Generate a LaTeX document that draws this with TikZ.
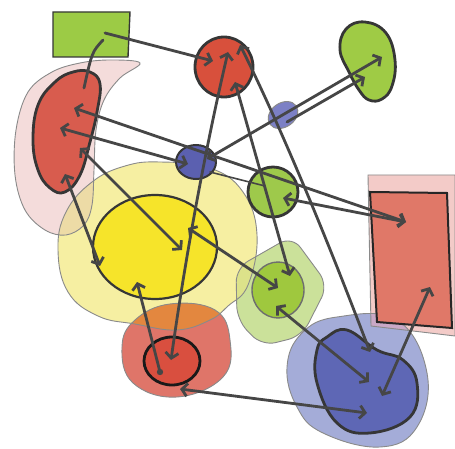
\documentclass[tikz,border=0pt]{standalone}
\usetikzlibrary{arrows.meta}
\definecolor{arrowc}{HTML}{464646}
\definecolor{inkc}{HTML}{363636}
\definecolor{softline}{HTML}{8A8A8A}
\definecolor{cGreenRect}{HTML}{9CCB45}
\definecolor{cPinkCres}{HTML}{F4DCDB}
\definecolor{cRedBean}{HTML}{D85C4E}
\definecolor{cRedCirc}{HTML}{D8503C}
\definecolor{cGreenBlob}{HTML}{9FCB45}
\definecolor{cSmallBlue}{HTML}{7C80C5}
\definecolor{cBlueEll}{HTML}{5B60B0}
\definecolor{cGreenCirc}{HTML}{9EC94B}
\definecolor{cPinkRect}{HTML}{F3CBC8}
\definecolor{cRedRect}{HTML}{E07868}
\definecolor{cYellowOut}{HTML}{F6EFA2}
\definecolor{cYellowIn}{HTML}{F6E42A}
\definecolor{cGreenPent}{HTML}{CBE19A}
\definecolor{cGreenIn}{HTML}{9FC83E}
\definecolor{cRedOut}{HTML}{DF7569}
\definecolor{cRedIn}{HTML}{D94F3F}
\definecolor{cBlueBig}{HTML}{A4ACD8}
\definecolor{cBlueIn}{HTML}{5E67B5}
\definecolor{oPinkYel}{HTML}{EDDBA6}
\definecolor{oRedYel}{HTML}{E3873F}
\definecolor{oGrnYel}{HTML}{DCE28A}
\definecolor{oBluGrn}{HTML}{A9BCA6}
\definecolor{oBluPink}{HTML}{C9A8C6}
\newcommand{\pathCres}{plot[smooth cycle, tension=0.6] coordinates
    {(140,63) (110,60) (80,63) (52,72) (28,92) (16,130) (15,175) (25,210) (45,230) (66,235) (84,225) (92,205) (94,170) (96,130) (104,100) (120,78)}}
\newcommand{\pathPinkRect}{(368,175) -- (455,175) -- (455,336) -- (371,326) -- cycle}
\newcommand{\pathYel}{plot[smooth cycle, tension=0.7] coordinates
    {(160,162) (210,168) (243,192) (257,235) (248,285) (228,306) (210,320) (177,330) (135,324) (98,316) (68,292) (58,250) (66,212) (92,182) (125,166)}}
\newcommand{\pathPent}{[rounded corners=14pt] (236,268) -- (292,236) -- (328,285) -- (302,336) -- (262,346) -- (237,320) -- cycle}
\newcommand{\pathBlueBig}{plot[smooth cycle, tension=0.7] coordinates
    {(337,317) (397,320) (427,373) (417,427) (380,447) (323,433) (297,407) (287,367) (302,333)}}
\newcommand{\pathRedOut}{plot[smooth cycle, tension=0.7] coordinates
    {(170,304) (215,310) (230,340) (223,377) (177,397) (133,383) (122,347) (135,320)}}
\tikzset{
  halo/.style={draw=softline, line width=0.9pt},
  core/.style={draw=inkc, line width=2.8pt, line join=round},
  link/.style={draw=arrowc, line width=2.8pt, line cap=round, line join=round},
  both/.style={link, {Straight Barb[length=5.5pt,width=13pt]}-{Straight Barb[length=5.5pt,width=13pt]}},
  fwd/.style={link, -{Straight Barb[length=5.5pt,width=13pt]}},
  plainlink/.style={link},
  thinlink/.style={draw=arrowc, line width=1.6pt, line cap=round}
}
\begin{document}
\begin{tikzpicture}[x=1pt,y=-1pt]
\useasboundingbox (0,0) rectangle (455,449);

% translucent background regions, with their overlaps
\fill[cPinkCres] \pathCres;
\fill[cPinkRect] \pathPinkRect;
\fill[cYellowOut] \pathYel;
\begin{scope}
  \clip \pathYel;
  \fill[oPinkYel] \pathCres;
\end{scope}
\fill[cGreenPent] \pathPent;
\begin{scope}
  \clip \pathYel;
  \fill[oGrnYel] \pathPent;
\end{scope}
\fill[cBlueBig] \pathBlueBig;
\begin{scope}
  \clip \pathPent;
  \fill[oBluGrn] \pathBlueBig;
\end{scope}
\begin{scope}
  \clip \pathPinkRect;
  \fill[oBluPink] \pathBlueBig;
\end{scope}
\fill[cRedOut] \pathRedOut;
\begin{scope}
  \clip \pathYel;
  \fill[oRedYel] \pathRedOut;
\end{scope}
\draw[halo] \pathCres;
\draw[halo] \pathPinkRect;
\draw[halo] \pathYel;
\draw[halo] \pathPent;
\draw[halo] \pathBlueBig;
\draw[halo] \pathRedOut;

% main shapes
\filldraw[draw=inkc, line width=1.4pt, fill=cGreenRect] (53,12) -- (130,12) -- (128,57) -- (53,57) -- cycle;
\filldraw[core, fill=cRedBean] plot[smooth cycle, tension=0.7] coordinates
  {(90,72) (100,84) (97,112) (90,142) (80,175) (65,192) (50,188) (38,170) (33,140) (38,105) (55,82) (73,72)};
\coordinate (rcc) at (224,67);
\filldraw[core, fill=cRedCirc] (rcc) ellipse [x radius=29pt, y radius=30pt];
\filldraw[core, fill=cGreenBlob] plot[smooth cycle, tension=0.7] coordinates
  {(365,22) (386,33) (395,60) (392,86) (382,99) (369,100) (359,90) (349,72) (340,50) (346,29)};
\coordinate (sbc) at (283,115);
\filldraw[draw=softline, line width=1pt, fill=cSmallBlue, rotate around={35:(sbc)}] (sbc) ellipse [x radius=16pt, y radius=12pt];
\coordinate (bec) at (196,162);
\filldraw[draw=inkc, line width=2pt, fill=cBlueEll] (bec) ellipse [x radius=20pt, y radius=17pt];
\coordinate (gcc) at (273,192);
\filldraw[core, fill=cGreenCirc] (gcc) ellipse [x radius=25pt, y radius=25pt];
\filldraw[draw=black!85, line width=2pt, fill=cRedRect] (370,192) -- (447,193) -- (452,328) -- (377,322) -- cycle;
\coordinate (yic) at (155,247);
\filldraw[draw=inkc, line width=2.2pt, fill=cYellowIn] (yic) ellipse [x radius=62pt, y radius=52pt];
\coordinate (gic) at (278,290);
\filldraw[draw=softline!80!black, line width=1.4pt, fill=cGreenIn] (gic) ellipse [x radius=26pt, y radius=28pt];
\coordinate (ric) at (172,361);
\filldraw[draw=black!90, line width=2.8pt, fill=cRedIn] (ric) ellipse [x radius=28pt, y radius=24pt];
\filldraw[core, fill=cBlueIn] plot[smooth cycle, tension=0.7] coordinates
  {(327,337) (347,330) (377,350) (403,360) (417,383) (410,417) (370,433) (337,423) (317,383) (317,350)};

% connector end points
\coordinate (gr1) at (105,33);
\coordinate (rc1) at (213,61);
\coordinate (gr2) at (103,40);
\coordinate (bean0) at (84,88);
\coordinate (bean1) at (74,108);
\coordinate (rr1) at (406,222);
\coordinate (bean2) at (60,128);
\coordinate (be1) at (188,164);
\coordinate (bean3) at (80,148);
\coordinate (yi1) at (182,250);
\coordinate (bean4) at (65,174);
\coordinate (yi2) at (100,266);
\coordinate (rc2) at (228,52);
\coordinate (ri1) at (171,360);
\coordinate (rc3) at (240,45);
\coordinate (bb1) at (370,352);
\coordinate (rc4) at (235,82);
\coordinate (gi1) at (290,276);
\coordinate (be2) at (207,159);
\coordinate (gb1) at (382,57);
\coordinate (sb1) at (287,122);
\coordinate (gb2) at (365,77);
\coordinate (gc1) at (283,198);
\coordinate (be3) at (210,172);
\coordinate (gc2) at (265,186);
\coordinate (yi3) at (188,228);
\coordinate (gi2) at (278,288);
\coordinate (ri2) at (160,372);
\coordinate (yi4) at (137,282);
\coordinate (ro1) at (180,389);
\coordinate (bb2) at (367,413);
\coordinate (gi3) at (276,306);
\coordinate (bb3) at (369,382);
\coordinate (rr2) at (430,287);
\coordinate (bb4) at (382,396);

% connectors
\draw[fwd] (gr1) -- (rc1);
\draw[plainlink] (gr2) .. controls (92,52) .. (bean0);
\draw[both] (bean1) -- (rr1);
\draw[both] (bean2) -- (be1);
\draw[both] (bean3) -- (yi1);
\draw[both] (bean4) -- (yi2);
\draw[both] (rc2) .. controls (205,150) and (185,260) .. (ri1);
\draw[both] (rc3) .. controls (275,115) and (320,220) .. (bb1);
\draw[both] (rc4) -- (gi1);
\draw[both] (be2) -- (gb1);
\draw[fwd] (sb1) -- (gb2);
\draw[both] (gc1) -- (rr1);
\draw[thinlink] (be3) -- (gc2);
\draw[both] (yi3) -- (gi2);
\draw[fwd] (ri2) -- (yi4);
\fill[arrowc] (ri2) circle (3.2pt);
\draw[both] (ro1) -- (bb2);
\draw[both] (gi3) -- (bb3);
\draw[both] (rr2) -- (bb4);
\end{tikzpicture}
\end{document}
